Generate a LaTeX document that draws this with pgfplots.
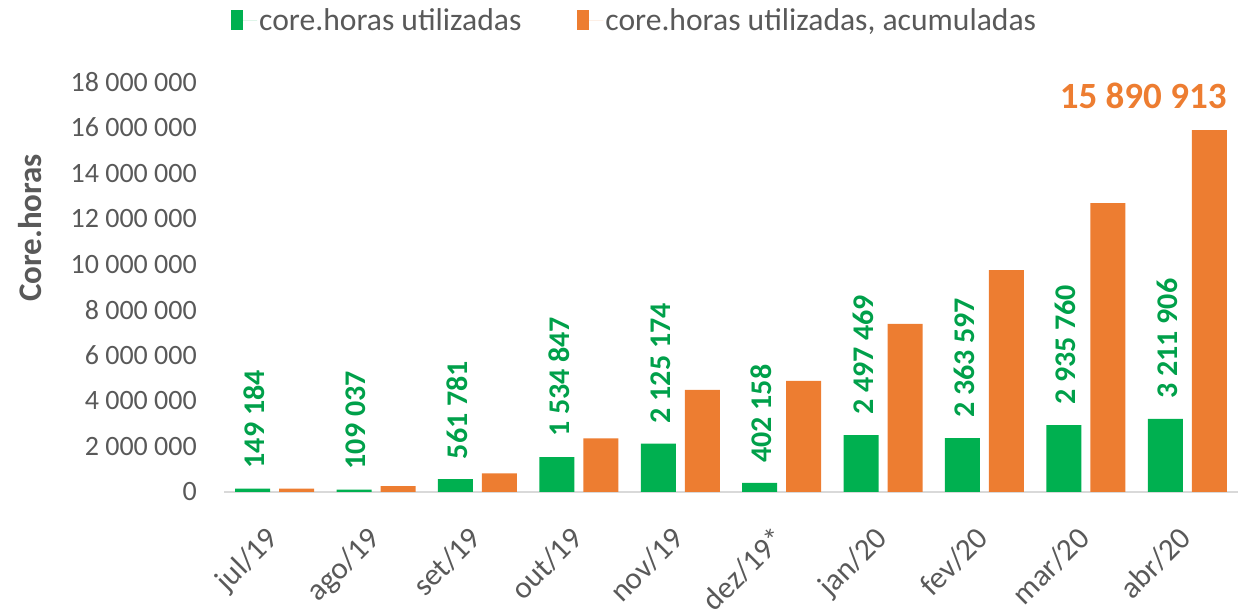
\documentclass[border=0pt]{standalone}
\usepackage{fontspec}
\setmainfont{Carlito}
\usepackage{pgfplots}
\pgfplotsset{compat=1.18}
\definecolor{cgreen}{HTML}{00B050}
\definecolor{lgreen}{HTML}{00A04A}
\definecolor{corange}{HTML}{ED7D31}
\definecolor{tgray}{HTML}{595959}
\definecolor{lgray}{HTML}{D9D9D9}
\begin{document}
\begin{tikzpicture}[x=1pt,y=1pt]
\useasboundingbox (0,0) rectangle (1243,615);
\begin{axis}[
  at={(224pt,123pt)}, anchor=south west,
  scale only axis, width=1014pt, height=410pt,
  xmin=-0.5, xmax=9.5, ymin=0, ymax=18000000,
  clip=false,
  axis lines*=left,
  x axis line style={draw=lgray, line width=2pt},
  y axis line style={draw=none},
  major tick length=0pt,
  xtick={0,...,9},
  xticklabels={jul/19,ago/19,set/19,out/19,nov/19,dez/19*,jan/20,fev/20,mar/20,abr/20},
  xticklabel style={rotate=45, anchor=north east, inner sep=0pt, yshift=-16pt, xshift=-30pt, text=tgray, font=\fontsize{31}{31}\selectfont},
  ytick={0,2000000,4000000,6000000,8000000,10000000,12000000,14000000,16000000,18000000},
  yticklabels={0,2 000 000,4 000 000,6 000 000,8 000 000,10 000 000,12 000 000,14 000 000,16 000 000,18 000 000},
  yticklabel style={anchor=east, inner sep=0pt, xshift=-27pt, text=tgray, font=\fontsize{28}{28}\selectfont},
  scaled y ticks=false,
  legend columns=2,
  legend style={draw=none, fill=none, at={(0.405,1.151)}, anchor=center, font=\fontsize{31.6}{31.6}\selectfont, text=tgray,
    /tikz/every even column/.append style={column sep=54pt}},
  legend image code/.code={\fill[#1] (0pt,-10pt) rectangle (12pt,10pt); \path (0pt,0pt) -- (26pt,0pt);},
]
\addplot[ybar, bar width=35pt, bar shift=-22pt, fill=cgreen, draw=none,
  point meta=explicit symbolic, nodes near coords,
  nodes near coords style={rotate=90, anchor=west, inner sep=0pt, xshift=20pt, yshift=20pt, text=lgreen, font=\bfseries\fontsize{30}{30}\selectfont}]
coordinates {
(0,149184) [149 184]
(1,109037) [109 037]
(2,561781) [561 781]
(3,1534847) [1 534 847]
(4,2125174) [2 125 174]
(5,402158) [402 158]
(6,2497469) [2 497 469]
(7,2363597) [2 363 597]
(8,2935760) [2 935 760]
(9,3211906) [3 211 906]
};
\addlegendentry{core.horas utilizadas}
\addplot[ybar, bar width=35pt, bar shift=22pt, fill=corange, draw=none]
coordinates {
(0,149184)
(1,258221)
(2,820002)
(3,2354849)
(4,4480023)
(5,4882181)
(6,7379650)
(7,9743247)
(8,12679007)
(9,15890913)
};
\addlegendentry{core.horas utilizadas, acumuladas}
\node[anchor=south east, inner sep=0pt, yshift=21pt, text=corange, font=\bfseries\fontsize{37}{37}\selectfont] at (axis cs:9.39,15890913) {15 890 913};
\end{axis}
\node[rotate=90, text=tgray, font=\bfseries\fontsize{33}{33}\selectfont] at (30,387) {Core.horas};
\end{tikzpicture}
\end{document}
